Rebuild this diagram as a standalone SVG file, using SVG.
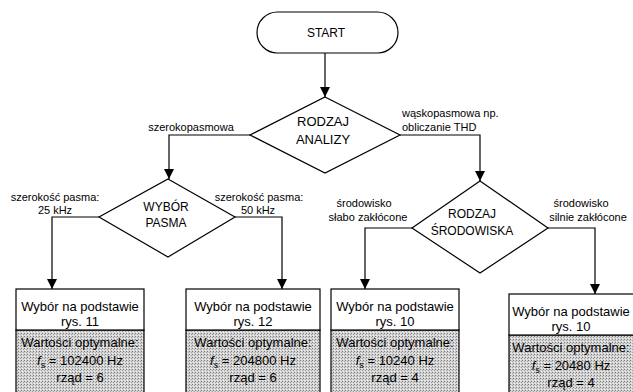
<svg xmlns="http://www.w3.org/2000/svg" width="633" height="392" viewBox="0 0 633 392">
<defs>
<pattern id="dots" width="3" height="3" patternUnits="userSpaceOnUse">
<rect width="3" height="3" fill="#d4d4d4"/>
<rect x="0" y="0" width="1" height="1" fill="#7a7a7a"/>
<rect x="2" y="1" width="1" height="1" fill="#a4a4a4"/>
<rect x="1" y="2" width="1" height="1" fill="#eeeeee"/>
</pattern>
<marker id="arr" viewBox="0 0 10 10" refX="10" refY="5" markerWidth="10" markerHeight="10" markerUnits="userSpaceOnUse" orient="auto">
<path d="M0,0 L10,5 L0,10 Z" fill="#000"/>
</marker>
<style>
.sh{fill:#fff;stroke:#000;stroke-width:1.2}
.t{font-family:"Liberation Sans",Arial,sans-serif;font-size:12px;fill:#000;text-anchor:middle}
.ta{font-family:"Liberation Sans",Arial,sans-serif;font-size:13px;fill:#000;text-anchor:middle}
.bt{font-family:"Liberation Sans",Arial,sans-serif;font-size:13px;fill:#000;text-anchor:middle}
.lb{font-family:"Liberation Sans",Arial,sans-serif;font-size:11px;fill:#000;text-anchor:middle}
.ll{font-family:"Liberation Sans",Arial,sans-serif;font-size:11px;fill:#000}
.c{fill:none;stroke:#000;stroke-width:1.2}
.g{fill:url(#dots);stroke:#000;stroke-width:1.2}
</style>
</defs>
<g id="connectors">
<path class="c" d="M325,53 L325,97" marker-end="url(#arr)"/>
<path class="c" d="M250,135 L169,135 L169,179" marker-end="url(#arr)"/>
<path class="c" d="M400,135 L480,135 L480,181" marker-end="url(#arr)"/>
<path class="c" d="M99,217 L52,217 L52,289" marker-end="url(#arr)"/>
<path class="c" d="M235,217 L282,217 L282,289" marker-end="url(#arr)"/>
<path class="c" d="M412,228 L365,228 L365,289" marker-end="url(#arr)"/>
<path class="c" d="M548,228 L595,228 L595,294" marker-end="url(#arr)"/>
<text class="lb" x="191" y="131">szerokopasmowa</text>
<text class="ll" x="402" y="117">wąskopasmowa np.</text>
<text class="ll" x="402" y="131">obliczanie THD</text>
<text class="lb" x="55" y="201">szerokość pasma:</text>
<text class="lb" x="55" y="214">25 kHz</text>
<text class="lb" x="259" y="201">szerokość pasma:</text>
<text class="lb" x="258" y="214">50 kHz</text>
<text class="lb" x="364" y="207">środowisko</text>
<text class="lb" x="368" y="221">słabo zakłócone</text>
<text class="lb" x="581" y="207">środowisko</text>
<text class="lb" x="588" y="221">silnie zakłócone</text>
</g>
<g id="start">
<rect class="sh" x="257" y="12" width="141" height="41" rx="20.5"/>
<text class="t" x="326" y="37">START</text>
</g>
<g id="rodzaj-analizy">
<polygon class="sh" points="325,97 400,135 325,173 250,135"/>
<text class="ta" x="323" y="126">RODZAJ</text>
<text class="ta" x="323" y="144">ANALIZY</text>
</g>
<g id="wybor-pasma">
<polygon class="sh" points="168,179 235,217 168,257 99,217"/>
<text class="t" x="166" y="211">WYBÓR</text>
<text class="t" x="166" y="227">PASMA</text>
</g>
<g id="rodzaj-srodowiska">
<polygon class="sh" points="480,181 548,228 480,273 412,228"/>
<text class="t" x="472" y="218">RODZAJ</text>
<text class="t" x="472" y="235">ŚRODOWISKA</text>
</g>
<g id="box1">
<rect class="g" x="16" y="330" width="128" height="70"/>
<rect class="sh" x="16" y="289" width="128" height="41"/>
<text class="bt" x="80" y="311">Wybór na podstawie</text>
<text class="bt" x="80" y="326">rys. 11</text>
<text class="bt" x="80" y="347">Wartości optymalne:</text>
<text class="bt" x="80" y="365"><tspan font-style="italic">f</tspan><tspan font-size="9" dy="3">s</tspan><tspan dy="-3"> = 102400 Hz</tspan></text>
<text class="bt" x="80" y="382">rząd = 6</text>
</g>
<g id="box2">
<rect class="g" x="186" y="330" width="134" height="70"/>
<rect class="sh" x="186" y="289" width="134" height="41"/>
<text class="bt" x="253" y="311">Wybór na podstawie</text>
<text class="bt" x="253" y="326">rys. 12</text>
<text class="bt" x="253" y="347">Wartości optymalne:</text>
<text class="bt" x="253" y="365"><tspan font-style="italic">f</tspan><tspan font-size="9" dy="3">s</tspan><tspan dy="-3"> = 204800 Hz</tspan></text>
<text class="bt" x="253" y="382">rząd = 6</text>
</g>
<g id="box3">
<rect class="g" x="331" y="330" width="128" height="70"/>
<rect class="sh" x="331" y="289" width="128" height="41"/>
<text class="bt" x="395" y="311">Wybór na podstawie</text>
<text class="bt" x="395" y="326">rys. 10</text>
<text class="bt" x="395" y="347">Wartości optymalne:</text>
<text class="bt" x="395" y="365"><tspan font-style="italic">f</tspan><tspan font-size="9" dy="3">s</tspan><tspan dy="-3"> = 10240 Hz</tspan></text>
<text class="bt" x="395" y="382">rząd = 4</text>
</g>
<g id="box4">
<rect class="g" x="509" y="335" width="130" height="70"/>
<rect class="sh" x="509" y="294" width="130" height="41"/>
<text class="bt" x="571" y="316">Wybór na podstawie</text>
<text class="bt" x="571" y="331">rys. 10</text>
<text class="bt" x="571" y="352">Wartości optymalne:</text>
<text class="bt" x="571" y="370"><tspan font-style="italic">f</tspan><tspan font-size="9" dy="3">s</tspan><tspan dy="-3"> = 20480 Hz</tspan></text>
<text class="bt" x="571" y="387">rząd = 4</text>
</g>
</svg>
